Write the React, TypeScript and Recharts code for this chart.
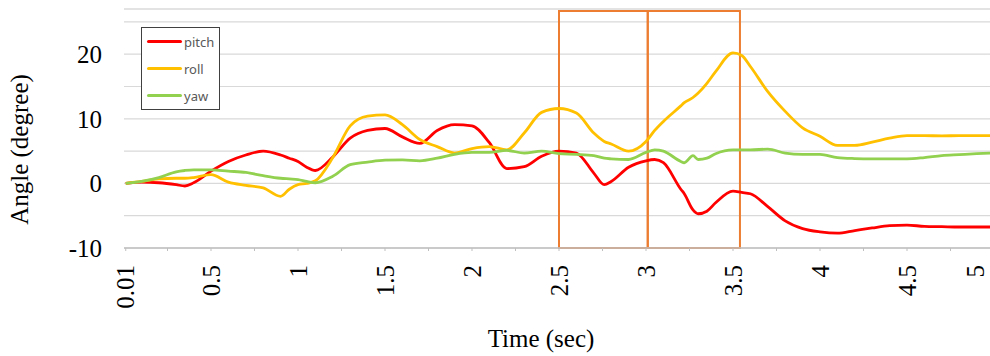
import React from 'react';
import { LineChart, Line, XAxis, YAxis, CartesianGrid, ReferenceArea, ReferenceLine, Legend, Label } from 'recharts';

// sample times (sec) and the three attitude angles (degree)
const time = [
  0.01, 0.1, 0.2, 0.3, 0.35, 0.4, 0.5, 0.6, 0.7, 0.8, 0.9, 0.95, 1.0, 1.05, 1.1,
  1.2, 1.3, 1.4, 1.5, 1.6, 1.7, 1.8, 1.9, 2.0, 2.1, 2.2, 2.3, 2.4, 2.5, 2.6, 2.7, 2.76, 2.8, 2.9, 3.0,
  3.05, 3.1, 3.2, 3.22, 3.27, 3.3, 3.35, 3.4, 3.5, 3.55, 3.6, 3.7, 3.8, 3.9, 4.0,
  4.1, 4.2, 4.3, 4.4, 4.5, 4.6, 4.7, 4.8, 4.9, 5.0,
];
const pitch = [
  0, 0.2, 0.1, -0.2, -0.4, 0.1, 1.9, 3.4, 4.4, 5.0, 4.4, 3.9, 3.4, 2.5, 2.0,
  4.1, 7.0, 8.2, 8.5, 7.2, 6.2, 8.2, 9.1, 8.9, 6.3, 2.3, 2.6, 4.2, 5.0, 4.7, 1.6, -0.2, 0.3, 2.5, 3.5,
  3.7, 3.2, -0.9, -1.6, -4.1, -4.7, -4.3, -3.0, -1.2, -1.4, -1.6, -3.6, -5.8, -7.0, -7.5,
  -7.7, -7.3, -6.9, -6.55, -6.45, -6.65, -6.7, -6.75, -6.75, -6.75,
];
const roll = [
  0, 0.3, 0.7, 0.8, 0.8, 0.9, 1.35, 0.2, -0.3, -0.7, -2.0, -0.9, -0.2, 0.0, 0.4,
  4.0, 8.9, 10.4, 10.6, 9.1, 6.8, 5.7, 4.7, 5.4, 5.7, 5.2, 7.8, 11.0, 11.6, 10.9, 7.8, 6.5, 6.1, 5.0, 6.5,
  8.2, 9.6, 12.0, 12.5, 13.3, 14.0, 15.5, 17.3, 20.2, 19.8, 18.1, 14.2, 11.15, 8.6, 7.3,
  5.9, 5.9, 6.4, 7.0, 7.4, 7.4, 7.35, 7.4, 7.4, 7.4,
];
const yaw = [
  0, 0.3, 0.9, 1.8, 2.0, 2.1, 2.1, 1.9, 1.7, 1.2, 0.8, 0.7, 0.6, 0.3, 0.1,
  1.1, 2.9, 3.3, 3.6, 3.65, 3.5, 3.9, 4.5, 4.8, 4.8, 5.1, 4.7, 5.0, 4.6, 4.5, 4.3, 3.9, 3.8, 3.7, 4.8,
  5.2, 5.0, 3.4, 3.2, 4.3, 3.7, 3.9, 4.6, 5.2, 5.2, 5.2, 5.3, 4.7, 4.5, 4.5,
  4.0, 3.85, 3.8, 3.8, 3.8, 4.0, 4.3, 4.45, 4.6, 4.7,
];

const xTicks = [
  0.01, 0.25, 0.5, 0.75, 1, 1.25, 1.5, 1.75, 2, 2.25, 2.5, 2.75, 3, 3.25, 3.5, 3.75,
  4, 4.25, 4.5, 4.75, 5,
];
const xTickLabels = ['0.01', '0.5', '1', '1.5', '2', '2.5', '3', '3.5', '4', '4.5', '5'];
const yTicks = [-10, -5, 0, 5, 10, 15, 20, 25];
const yTickLabels = [-10, 0, 10, 20];

// highlighted time windows (sec)
const windowStarts = [2.5, 3.01];
const windowEnds = [3.01, 3.54];

const data = time.map((t, i) => ({ t, pitch: pitch[i], roll: roll[i], yaw: yaw[i] }));

const serif = "'Liberation Serif', 'Times New Roman', serif";
const VIEW_WIDTH = 990;

function TimeTick({ x, y, payload }: any) {
  const label = String(payload.value);
  if (!xTickLabels.includes(label)) return <g />;
  // keep the last label inside the visible area
  const tx = Math.min(x, VIEW_WIDTH - 15);
  return (
    <text
      transform={`translate(${tx},${y}) rotate(-90)`}
      textAnchor="end"
      dy="0.34em"
      fontSize={25}
      fontFamily={serif}
      fill="#000"
    >
      {label}
    </text>
  );
}

function AngleTick({ x, y, payload }: any) {
  if (!yTickLabels.includes(payload.value)) return <g />;
  return (
    <text x={x} y={y} dy="0.35em" textAnchor="end" fontSize={25} fontFamily={serif} fill="#000">
      {payload.value}
    </text>
  );
}

function LegendBox({ payload }: any) {
  return (
    <div
      style={{
        boxSizing: 'border-box',
        width: 79,
        border: '1px solid #404040',
        background: '#fff',
        padding: '0 4px 0 5px',
        fontFamily: "'Noto Sans', sans-serif",
        fontSize: 13,
        color: '#595959',
      }}
    >
      {(payload || []).map((p: any) => (
        <div key={p.value} style={{ height: 27, display: 'flex', alignItems: 'center' }}>
          <span style={{ display: 'inline-block', width: 35, height: 3, background: p.color, borderRadius: 2, marginRight: 2 }} />
          <span>{p.value}</span>
        </div>
      ))}
    </div>
  );
}

export default function App() {
  return (
    <div style={{ position: 'fixed', left: 0, top: 0, width: VIEW_WIDTH, height: 356, overflow: 'hidden', background: '#fff' }}>
      <LineChart width={1010} height={356} data={data} margin={{ top: 9, right: 16, bottom: 0, left: 0 }}>
        <CartesianGrid vertical={false} stroke="#d9d9d9" strokeWidth={1.2} />
        <ReferenceLine y={27} stroke="#d9d9d9" strokeWidth={1.2} />
        <XAxis
          dataKey="t"
          type="number"
          domain={[0, 5]}
          ticks={xTicks}
          interval={0}
          height={108}
          tick={<TimeTick />}
          tickSize={3}
          tickMargin={14}
          axisLine={{ stroke: '#bfbfbf', strokeWidth: 1.3 }}
          tickLine={{ stroke: '#bfbfbf' }}
        >
          <Label
            content={({ viewBox }: any) => (
              <text
                x={viewBox.x + viewBox.width / 2 - 18}
                y={viewBox.y + viewBox.height - 9}
                textAnchor="middle"
                fontSize={25}
                fontFamily={serif}
                fill="#000"
              >
                Time (sec)
              </text>
            )}
          />
        </XAxis>
        <YAxis
          type="number"
          domain={[-10, 27]}
          ticks={yTicks}
          interval={0}
          width={124}
          axisLine={false}
          tickLine={false}
          tickMargin={16}
          tick={<AngleTick />}
        >
          <Label
            content={({ viewBox }: any) => (
              <text
                transform={`translate(28,${viewBox.y + viewBox.height / 2 + 21}) rotate(-90)`}
                textAnchor="middle"
                fontSize={25}
                fontFamily={serif}
                fill="#000"
              >
                Angle (degree)
              </text>
            )}
          />
        </YAxis>
        <Legend
          layout="vertical"
          align="center"
          verticalAlign="middle"
          wrapperStyle={{ left: 141, top: 27, width: 'auto', height: 'auto' }}
          content={<LegendBox />}
        />
        <Line dataKey="pitch" name="pitch" type="monotone" stroke="#FF0000" strokeWidth={2.8} dot={false} isAnimationActive={false} />
        <Line dataKey="roll" name="roll" type="monotone" stroke="#FFC000" strokeWidth={2.8} dot={false} isAnimationActive={false} />
        <Line dataKey="yaw" name="yaw" type="monotone" stroke="#92D050" strokeWidth={2.8} dot={false} isAnimationActive={false} />
        {windowStarts.map((x1, i) => (
          <ReferenceArea
            key={i}
            x1={x1}
            x2={windowEnds[i]}
            y1={-10}
            y2={26.7}
            fill="none"
            stroke="#ED7D31"
            strokeWidth={2}
            ifOverflow="visible"
          />
        ))}
      </LineChart>
    </div>
  );
}
